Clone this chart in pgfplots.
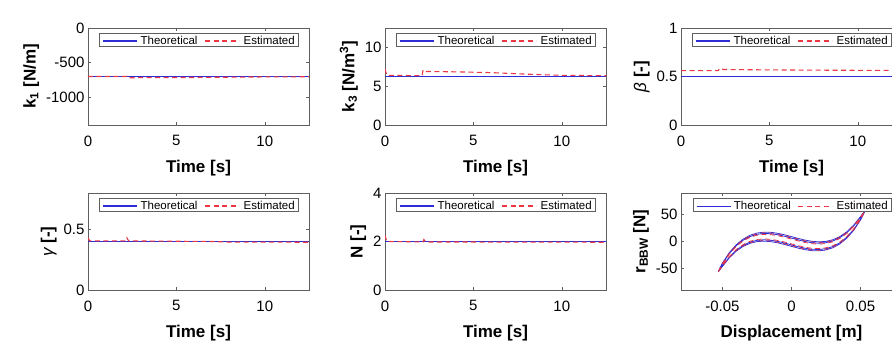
\documentclass[border=0pt]{standalone}
\usepackage{fontspec}
\setmainfont{Liberation Sans}
\usepackage{pgfplots}
\pgfplotsset{compat=1.18}
\definecolor{mblue}{RGB}{45,45,215}
\definecolor{mred}{RGB}{235,55,65}
\definecolor{axgray}{RGB}{95,95,95}
\pgfplotsset{
  myax/.style={
    width=221pt, height=97pt, scale only axis,
    axis line style={draw=axgray, line width=0.6pt},
    tick align=inside, major tick length=3pt,
    tick style={draw=axgray, line width=0.5pt},
    ticklabel style={font=\fontsize{15}{15}\selectfont},
    xticklabel style={yshift=-7pt},
    label style={font=\fontsize{17}{17}\selectfont\bfseries},
    xlabel style={yshift=-7pt},
    /pgf/number format/assume math mode=true,
  },
  tax/.style={myax, xmin=0, xmax=12.5, xtick={0,5,10}, xticklabels={0,5,10}, xlabel={Time [s]}},
  th/.style={draw=mblue, line width=1.1pt},
  es/.style={draw=mred, line width=1.1pt, dash pattern=on 5pt off 3.5pt},
}
\newcommand{\mylegend}[1]{%
  \node[draw=axgray, fill=white, anchor=north east, inner xsep=3pt, inner ysep=2.5pt,
    line width=0.5pt, font=\fontsize{11.5}{12}\selectfont, xshift=-11pt, yshift=-5pt]
    at (rel axis cs:1,1)
    {\tikz[baseline=-0.5ex]\draw[draw=mblue,line width=#1] (0pt,0pt)--(34pt,0pt);\hspace{3pt}Theoretical\hspace{7pt}\tikz[baseline=-0.5ex]\draw[draw=mred,line width=#1,dash pattern=on 5pt off 3.5pt] (0pt,0pt)--(34pt,0pt);\hspace{4pt}Estimated};}
\begin{document}
\begin{tikzpicture}
\path[use as bounding box] (0,0) rectangle (892pt,347pt);
% ---- k1
\begin{axis}[tax, at={(88pt,222pt)}, anchor=south west,
  ymin=-1400, ymax=0, ytick={-1000,-500,0}, yticklabels={-1000,-500,0},
  ylabel={k\textsubscript{1} [N/m]}]
\addplot[th] coordinates {(0,-700) (12.5,-700)};
\addplot[es] coordinates {(0,-700) (2.15,-700) (2.25,-692) (2.35,-718) (4,-716) (6,-714) (8,-710) (10,-706) (12.5,-704)};
\mylegend{1.1pt}
\end{axis}
% ---- k3
\begin{axis}[tax, at={(385pt,222pt)}, anchor=south west,
  ymin=0, ymax=1250000, ytick={0,500000,1000000}, yticklabels={0,5,10},
  scaled y ticks=false,
  ylabel={k\textsubscript{3} [N/m\textsuperscript{3}]}]
\addplot[th] coordinates {(0,625000) (12.5,625000)};
\addplot[es] coordinates {(0,720000) (0.1,640000) (2.1,635000) (2.15,710000) (2.3,690000) (4,685000) (6,675000) (8,655000) (10,640000) (12.5,635000)};
\mylegend{1.1pt}
\node[anchor=south west, font=\fontsize{15}{15}\selectfont, inner sep=0pt, yshift=4pt] at (rel axis cs:0,1) {$\times$10\textsuperscript{5}};
\end{axis}
% ---- beta
\begin{axis}[tax, at={(681pt,222pt)}, anchor=south west,
  ymin=0, ymax=1, ytick={0,0.5,1}, yticklabels={0,0.5,1},
  ylabel={{\mdseries\itshape β} [-]}]
\addplot[th] coordinates {(0,0.5) (12.5,0.5)};
\addplot[es] coordinates {(0,0.56) (2.1,0.56) (2.2,0.585) (2.4,0.572) (5,0.568) (8,0.565) (12.5,0.562)};
\mylegend{1.1pt}
\end{axis}
% ---- gamma
\begin{axis}[tax, at={(88pt,57pt)}, anchor=south west,
  ymin=0, ymax=0.8, ytick={0,0.5}, yticklabels={0,0.5},
  ylabel={{\mdseries\itshape γ} [-]}]
\addplot[th] coordinates {(0,0.4) (12.5,0.4)};
\addplot[es] coordinates {(0,0.43) (0.1,0.405) (2.15,0.405) (2.2,0.43) (2.3,0.405) (7,0.4) (8,0.395) (12.5,0.394)};
\mylegend{1.1pt}
\end{axis}
% ---- N
\begin{axis}[tax, at={(385pt,57pt)}, anchor=south west,
  ymin=0, ymax=4, ytick={0,2,4}, yticklabels={0,2,4},
  ylabel={N [-]}]
\addplot[th] coordinates {(0,2) (12.5,2)};
\addplot[es] coordinates {(0,2.25) (0.1,2.0) (2.15,1.98) (2.2,2.08) (2.3,1.98) (12.5,1.97)};
\mylegend{1.1pt}
\end{axis}
% ---- hysteresis
\begin{axis}[myax, at={(681pt,57pt)}, anchor=south west,
  xmin=-0.08, xmax=0.08, xtick={-0.05,0,0.05}, xticklabels={-0.05,0,0.05},
  scaled x ticks=false,
  ymin=-90, ymax=90, ytick={-50,0,50}, yticklabels={-50,0,50},
  xlabel={Displacement [m]},
  ylabel={r\textsubscript{BBW} [N]}]
\addplot[draw=mblue, line width=0.8pt] coordinates {(-0.053,-55.95) (-0.05,-40.15) (-0.045,-20.70) (-0.04,-6.10) (-0.035,4.46) (-0.03,11.55) (-0.025,15.67) (-0.02,17.33) (-0.015,17.02) (-0.01,15.22) (-0.005,12.38) (0,9) (0.005,5.54) (0.01,2.46) (0.015,0.24) (0.02,-0.67) (0.025,0.21) (0.03,3.29) (0.035,9.06) (0.04,17.90) (0.045,30.20) (0.05,46.11) (0.053,55.95)
(0.05,40.15) (0.045,20.70) (0.04,6.10) (0.035,-4.46) (0.03,-11.55) (0.025,-15.67) (0.02,-17.33) (0.015,-17.02) (0.01,-15.22) (0.005,-12.38) (0,-9) (-0.005,-5.54) (-0.01,-2.46) (-0.015,-0.24) (-0.02,0.67) (-0.025,-0.21) (-0.03,-3.29) (-0.035,-9.06) (-0.04,-17.90) (-0.045,-30.20) (-0.05,-46.11) (-0.053,-55.95)};
\addplot[draw=mred, line width=0.8pt, dash pattern=on 5pt off 3.5pt] coordinates {(-0.053,-55.95) (-0.05,-40.60) (-0.045,-21.41) (-0.04,-6.98) (-0.035,3.45) (-0.03,10.44) (-0.025,14.48) (-0.02,16.08) (-0.015,15.73) (-0.01,13.89) (-0.005,11.04) (0,7.65) (0.005,4.20) (0.01,1.13) (0.015,-1.05) (0.02,-1.92) (0.025,-0.98) (0.03,2.18) (0.035,8.05) (0.04,17.02) (0.045,29.49) (0.05,45.66) (0.053,55.95)
(0.05,40.60) (0.045,21.41) (0.04,6.98) (0.035,-3.45) (0.03,-10.44) (0.025,-14.48) (0.02,-16.08) (0.015,-15.73) (0.01,-13.89) (0.005,-11.04) (0,-7.65) (-0.005,-4.20) (-0.01,-1.13) (-0.015,1.05) (-0.02,1.92) (-0.025,0.98) (-0.03,-2.18) (-0.035,-8.05) (-0.04,-17.02) (-0.045,-29.49) (-0.05,-45.66) (-0.053,-55.95)};
\addplot[draw=mblue, line width=0.8pt] coordinates {(-0.053,-55.95) (-0.05,-41.04) (-0.045,-22.12) (-0.04,-7.87) (-0.035,2.43) (-0.03,9.32) (-0.025,13.29) (-0.02,14.83) (-0.015,14.43) (-0.01,12.57) (-0.005,9.69) (0,6.3) (0.005,2.85) (0.01,-0.19) (0.015,-2.35) (0.02,-3.17) (0.025,-2.17) (0.03,1.06) (0.035,7.03) (0.04,16.13) (0.045,28.78) (0.05,45.22) (0.053,55.95)
(0.05,41.04) (0.045,22.12) (0.04,7.87) (0.035,-2.43) (0.03,-9.32) (0.025,-13.29) (0.02,-14.83) (0.015,-14.43) (0.01,-12.57) (0.005,-9.69) (0,-6.3) (-0.005,-2.85) (-0.01,0.19) (-0.015,2.35) (-0.02,3.17) (-0.025,2.17) (-0.03,-1.06) (-0.035,-7.03) (-0.04,-16.13) (-0.045,-28.78) (-0.05,-45.22) (-0.053,-55.95)};
\addplot[draw=mred, line width=0.8pt, dash pattern=on 5pt off 3.5pt] coordinates {(-0.053,-55.95) (-0.05,-41.64) (-0.045,-23.07) (-0.04,-9.05) (-0.035,1.08) (-0.03,7.84) (-0.025,11.70) (-0.02,13.17) (-0.015,12.71) (-0.01,10.80) (-0.005,7.90) (0,4.5) (0.005,1.06) (0.01,-1.96) (0.015,-4.07) (0.02,-4.83) (0.025,-3.76) (0.03,-0.42) (0.035,5.68) (0.04,14.95) (0.045,27.83) (0.05,44.62) (0.053,55.95)
(0.05,41.64) (0.045,23.07) (0.04,9.05) (0.035,-1.08) (0.03,-7.84) (0.025,-11.70) (0.02,-13.17) (0.015,-12.71) (0.01,-10.80) (0.005,-7.90) (0,-4.5) (-0.005,-1.06) (-0.01,1.96) (-0.015,4.07) (-0.02,4.83) (-0.025,3.76) (-0.03,0.42) (-0.035,-5.68) (-0.04,-14.95) (-0.045,-27.83) (-0.05,-44.62) (-0.053,-55.95)};
\mylegend{0.8pt}
\end{axis}
\end{tikzpicture}
\end{document}
